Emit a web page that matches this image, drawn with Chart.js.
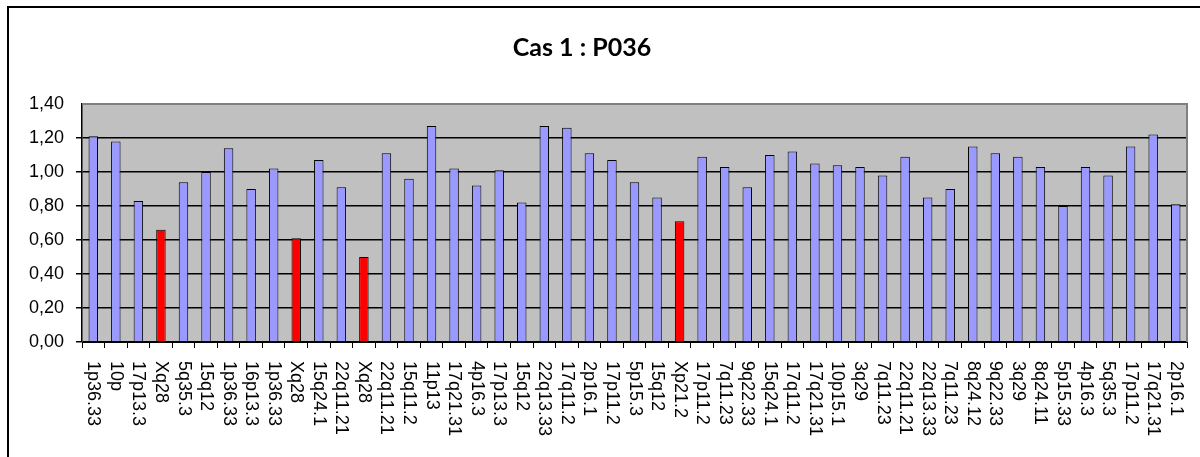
<!DOCTYPE html>
<html>
<head>
<meta charset="utf-8">
<script src="https://cdn.jsdelivr.net/npm/chart.js@4"></script>
<style>
  body { margin: 0; overflow: hidden; background: #fff; }
  #wrap { position: relative; width: 1200px; height: 457px; }
</style>
</head>
<body>
<div id="wrap"><canvas id="myChart" width="1200" height="457"></canvas></div>
<script>
// region labels along the x axis
var regions = ['1p36.33', '10p', '17p13.3', 'Xq28', '5q35.3', '15q12', '1p36.33', '16p13.3', '1p36.33', 'Xq28',
    '15q24.1', '22q11.21', 'Xq28', '22q11.21', '15q11.2', '11p13', '17q21.31', '4p16.3', '17p13.3', '15q12',
    '22q13.33', '17q11.2', '2p16.1', '17p11.2', '5p15.3', '15q12', 'Xp21.2', '17p11.2', '7q11.23', '9q22.33',
    '15q24.1', '17q11.2', '17q21.31', '10p15.1', '3q29', '7q11.23', '22q11.21', '22q13.33', '7q11.23', '8q24.12',
    '9q22.33', '3q29', '8q24.11', '5p15.33', '4p16.3', '5q35.3', '17p11.2', '17q21.31', '2p16.1'];
// ratio per region
var ratios = [1.21, 1.18, 0.83, 0.66, 0.94, 1.00, 1.14, 0.90, 1.02, 0.61,
    1.07, 0.91, 0.50, 1.11, 0.96, 1.27, 1.02, 0.92, 1.01, 0.82,
    1.27, 1.26, 1.11, 1.07, 0.94, 0.85, 0.71, 1.09, 1.03, 0.91,
    1.10, 1.12, 1.05, 1.04, 1.03, 0.98, 1.09, 0.85, 0.90, 1.15,
    1.11, 1.09, 1.03, 0.80, 1.03, 0.98, 1.15, 1.22, 0.81];
// regions shown in red
var highlighted = ['Xq28', 'Xp21.2'];
var yTicks = [0, 0.2, 0.4, 0.6, 0.8, 1.0, 1.2, 1.4];
var chartTitle = 'Cas 1 : P036';

var barColors = regions.map(function (r) {
    return highlighted.indexOf(r) >= 0 ? '#FF0000' : '#9999FF';
});

var decor = {
    id: 'decor',
    beforeDraw: function (c) {
        var ctx = c.ctx, a = c.chartArea;
        ctx.save();
        ctx.fillStyle = '#C0C0C0';
        ctx.fillRect(a.left, a.top, a.right - a.left, a.bottom - a.top);
        ctx.restore();
    },
    afterDraw: function (c) {
        var ctx = c.ctx, a = c.chartArea;
        ctx.save();
        // grey frame on top / right of plot
        ctx.strokeStyle = '#808080';
        ctx.lineWidth = 2;
        ctx.beginPath();
        ctx.moveTo(a.left, a.top);
        ctx.lineTo(a.right, a.top);
        ctx.lineTo(a.right, a.bottom);
        ctx.stroke();
        // outer frame
        ctx.strokeStyle = '#000';
        ctx.lineWidth = 2;
        ctx.strokeRect(8, 7, 1300, 600);
        // title
        ctx.fillStyle = '#000';
        ctx.font = 'bold 25px Lato, "Liberation Sans", sans-serif';
        ctx.textAlign = 'center';
        ctx.textBaseline = 'middle';
        ctx.fillText(chartTitle, 582, 48);
        // x labels, rotated clockwise
        var xs = c.scales.x;
        ctx.font = '18px "Liberation Sans", Arial, sans-serif';
        ctx.textAlign = 'left';
        regions.forEach(function (r, i) {
            var px = xs.getPixelForTick(i);
            ctx.save();
            ctx.translate(px, a.bottom + 19);
            ctx.rotate(Math.PI / 2);
            ctx.fillText(r, 0, 0);
            ctx.restore();
        });
        ctx.restore();
    }
};

var chart = new Chart(document.getElementById('myChart'), {
    type: 'bar',
    data: {
        labels: regions,
        datasets: [{
            label: chartTitle,
            data: ratios,
            backgroundColor: barColors,
            borderColor: '#000',
            borderWidth: 1,
            barPercentage: 0.42,
            categoryPercentage: 1,
        }],
    },
    options: {
        responsive: false,
        animation: false,
        layout: { padding: { left: 0, right: 13, top: 104, bottom: 0 } },
        scales: {
            x: {
                grid: { drawOnChartArea: false, drawTicks: true, tickLength: 6, color: '#000', offset: true },
                border: { color: '#000', width: 1 },
                ticks: { display: false },
                afterFit: function (s) { s.height = 115; },
            },
            y: {
                min: 0,
                max: 1.4,
                afterBuildTicks: function (s) { s.ticks = yTicks.map(function (v) { return { value: v }; }); },
                grid: {
                    color: function (ctx) { return ctx.tick && ctx.tick.value >= 1.4 ? 'rgba(0,0,0,0)' : '#000'; },
                    lineWidth: 1.5,
                    tickLength: 6,
                },
                border: { color: '#000', width: 1.5 },
                ticks: {
                    color: '#000',
                    padding: 12,
                    font: { family: '"Liberation Sans", Arial, sans-serif', size: 18 },
                    callback: function (v) { return v.toFixed(2).replace('.', ','); },
                },
                afterFit: function (s) { s.width = 82; },
            },
        },
        plugins: {
            legend: { display: false },
            tooltip: { enabled: false },
            title: { display: false },
        },
    },
    plugins: [decor],
});
</script>
</body>
</html>
